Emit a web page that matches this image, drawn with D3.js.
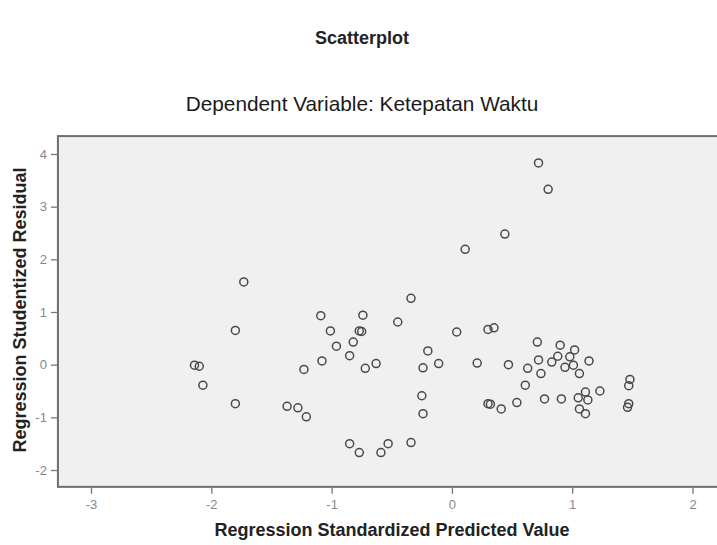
<!DOCTYPE html>
<html>
<head>
<meta charset="utf-8">
<script src="https://cdn.jsdelivr.net/npm/d3@7"></script>
<style>
  body { margin: 0; background: #fff; }
  svg text { font-family: Arial, "Liberation Sans", sans-serif; }
</style>
</head>
<body>
<div class="visHolder"></div>
<script>
// predicted value (x) and studentized residual (y)
let predicted = [
  -2.14, -2.10, -2.07, -1.80, -1.73, -1.80, -1.37, -1.28, -1.21, -1.23,
  -1.09, -1.01, -1.08, -0.96, -0.85, -0.82, -0.77, -0.75, -0.74, -0.72,
  -0.63, -0.85, -0.77, -0.59, -0.53, -0.34, -0.45, -0.34, -0.20, -0.11,
  -0.24, -0.25, -0.24, 0.04, 0.11, 0.30, 0.35, 0.21, 0.30, 0.32,
  0.41, 0.54, 0.47, 0.44, 0.63, 0.61, 0.72, 0.80, 0.71, 0.72,
  0.74, 0.77, 0.91, 0.90, 1.02, 0.88, 0.98, 0.83, 0.94, 1.01,
  1.06, 1.14, 1.11, 1.23, 1.05, 1.13, 1.06, 1.11, 1.48, 1.47,
  1.47, 1.46
];
let residual = [
  -0.01, -0.03, -0.39, 0.65, 1.57, -0.74, -0.79, -0.82, -0.99, -0.09,
  0.93, 0.64, 0.07, 0.35, 0.17, 0.43, 0.64, 0.63, 0.94, -0.07,
  0.02, -1.50, -1.67, -1.67, -1.50, -1.48, 0.81, 1.26, 0.26, 0.02,
  -0.06, -0.59, -0.93, 0.62, 2.19, 0.67, 0.70, 0.03, -0.74, -0.75,
  -0.84, -0.72, 0.00, 2.48, -0.07, -0.39, 3.83, 3.33, 0.43, 0.09,
  -0.17, -0.65, -0.65, 0.37, 0.28, 0.16, 0.15, 0.05, -0.05, -0.01,
  -0.17, 0.07, -0.52, -0.50, -0.63, -0.67, -0.84, -0.93, -0.28, -0.40,
  -0.74, -0.81
];
let xTicks = [-3, -2, -1, 0, 1, 2];
let yTicks = [-2, -1, 0, 1, 2, 3, 4];

let chartTitle = "Scatterplot";
let subTitle = "Dependent Variable: Ketepatan Waktu";
let xTitle = "Regression Standardized Predicted Value";
let yTitle = "Regression Studentized Residual";

let width = 717;
let height = 545;

let svg = d3
  .select(".visHolder")
  .append("svg")
  .attr("width", width)
  .attr("height", height);

let xScale = d3.scaleLinear().domain([-3, 2]).range([91, 692.5]);
let yScale = d3.scaleLinear().domain([-2, 4]).range([470, 154]);

// plot frame goes a bit past the outer ticks, right side runs off the page
let boxLeft = xScale(-3.275);
let boxRight = xScale(2.26);
let boxTop = yScale(4.34);
let boxBottom = yScale(-2.32);

svg
  .append("rect")
  .attr("x", boxLeft)
  .attr("y", boxTop)
  .attr("width", boxRight - boxLeft)
  .attr("height", boxBottom - boxTop)
  .attr("fill", "#f0f0f0")
  .attr("stroke", "#6e6e6e")
  .attr("stroke-width", 2);

let xAxis = d3.axisBottom(xScale).tickValues(xTicks).tickSize(6).tickFormat(d3.format("d"));
let yAxis = d3.axisLeft(yScale).tickValues(yTicks).tickSize(6).tickFormat(d3.format("d"));

let gx = svg
  .append("g")
  .attr("id", "x-axis")
  .attr("transform", "translate(0," + (boxBottom + 1) + ")")
  .call(xAxis);
let gy = svg
  .append("g")
  .attr("id", "y-axis")
  .attr("transform", "translate(" + (boxLeft - 1) + ",0)")
  .call(yAxis);

[gx, gy].forEach(function (g) {
  g.select(".domain").remove();
  g.selectAll(".tick line").attr("stroke", "#777").attr("stroke-width", 1.3);
  g.selectAll(".tick text")
    .attr("fill", "#888")
    .style("font-size", "13px")
    .text(function (d) {
      return d < 0 ? "-" + Math.abs(d) : d;
    });
});
gx.selectAll(".tick text").attr("dy", "0.9em");
gy.selectAll(".tick text").attr("dx", "-1px");

svg
  .append("g")
  .selectAll("circle")
  .data(predicted)
  .enter()
  .append("circle")
  .attr("cx", function (d) {
    return xScale(d);
  })
  .attr("cy", function (d, i) {
    return yScale(residual[i]);
  })
  .attr("r", 4)
  .attr("fill", "none")
  .attr("stroke", "#4a4a4a")
  .attr("stroke-width", 1.5);

svg
  .append("text")
  .attr("x", 362)
  .attr("y", 44)
  .attr("text-anchor", "middle")
  .style("font-size", "18px")
  .style("font-weight", "bold")
  .attr("fill", "#222")
  .text(chartTitle);

svg
  .append("text")
  .attr("x", 362)
  .attr("y", 111)
  .attr("text-anchor", "middle")
  .style("font-size", "20.8px")
  .attr("fill", "#1a1a1a")
  .text(subTitle);

svg
  .append("text")
  .attr("x", 392)
  .attr("y", 536)
  .attr("text-anchor", "middle")
  .style("font-size", "18px")
  .style("font-weight", "bold")
  .attr("fill", "#222")
  .text(xTitle);

svg
  .append("text")
  .attr("transform", "translate(26,310) rotate(-90)")
  .attr("text-anchor", "middle")
  .style("font-size", "18px")
  .style("font-weight", "bold")
  .attr("fill", "#222")
  .text(yTitle);
</script>
</body>
</html>
